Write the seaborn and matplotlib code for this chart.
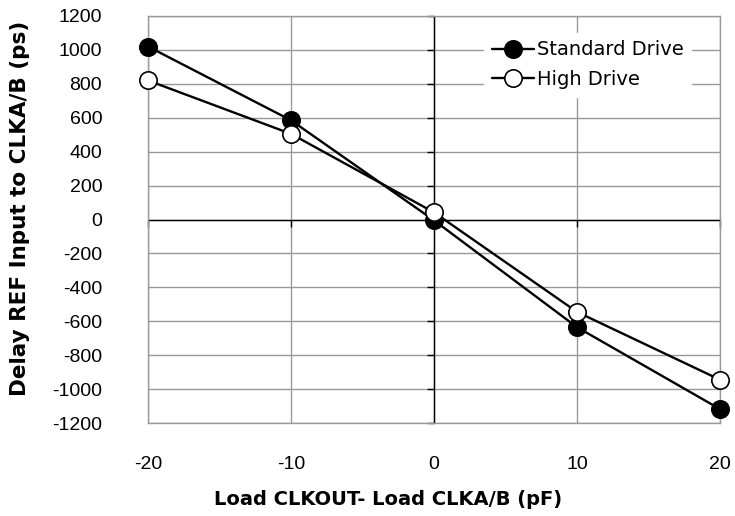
import matplotlib
matplotlib.use("Agg")
import matplotlib.pyplot as plt
import numpy as np
import pandas as pd
import seaborn as sns

# values
load_diff_pf = [-20, -10, 0, 10, 20]
standard_drive_ps = [1020, 585, -5, -635, -1118]
high_drive_ps = [820, 505, 42, -545, -945]
x_ticks = [-20, -10, 0, 10, 20]
y_ticks = list(range(-1200, 1201, 200))

sns.set_style("white")
plt.rcParams["font.family"] = ["Liberation Sans", "DejaVu Sans"]
plt.rcParams["axes.unicode_minus"] = False
for key in ("text.color", "axes.labelcolor", "xtick.color", "ytick.color"):
    plt.rcParams[key] = "black"

df = pd.DataFrame({
    "load": load_diff_pf * 2,
    "delay": standard_drive_ps + high_drive_ps,
    "series": ["Standard Drive"] * 5 + ["High Drive"] * 5,
})

W, H = 735, 516
fig = plt.figure(figsize=(W / 100, H / 100), dpi=100)
ax = fig.add_axes([148 / W, 1 - 423 / H, 572 / W, 407 / H])

face = {"Standard Drive": "black", "High Drive": "white"}
for name, fc in face.items():
    sub = df[df["series"] == name]
    sns.lineplot(data=sub, x="load", y="delay", ax=ax, color="black",
                 linewidth=1.7, marker="o", markersize=12.5,
                 markerfacecolor=fc, markeredgecolor="black",
                 markeredgewidth=1.2, label=name, zorder=4, clip_on=False)

ax.set_xlim(-20, 20)
ax.set_ylim(-1200, 1200)
ax.set_xticks(x_ticks)
ax.set_yticks(y_ticks)
ax.grid(True, color="#999999", linewidth=1.0)
ax.set_axisbelow(True)
for sp in ax.spines.values():
    sp.set_color("#999999")
    sp.set_linewidth(1.0)
ax.tick_params(length=0, labelsize=14)
ax.tick_params(axis="y", pad=33)
ax.tick_params(axis="x", pad=24)
for lbl in ax.get_xticklabels() + ax.get_yticklabels():
    lbl.set_fontfamily("Liberation Sans")

# zero axes with their own tick marks
ax.axhline(0, color="black", linewidth=1.0, zorder=2)
ax.axvline(0, color="black", linewidth=1.0, zorder=2)
ax.plot(x_ticks, np.zeros(len(x_ticks)), linestyle="none", marker=3,
        markersize=5, color="black", zorder=2, clip_on=False)
ax.plot(np.zeros(len(y_ticks)), y_ticks, linestyle="none", marker=0,
        markersize=5, color="black", zorder=2, clip_on=False)

ax.set_xlabel("Load CLKOUT- Load CLKA/B (pF)", fontsize=14,
              fontweight="bold", family="DejaVu Sans")
ax.xaxis.set_label_coords(0.42, -0.165)
ax.set_ylabel("Delay REF Input to CLKA/B (ps)", fontsize=15.5,
              fontweight="bold", family="DejaVu Sans")
ax.yaxis.set_label_coords(-0.206, 0.528)

leg = ax.legend(loc="upper left", bbox_to_anchor=(0.571, 0.983),
                frameon=True, handlelength=2.15, handletextpad=0.15,
                labelspacing=0.53, borderpad=0.4,
                prop={"family": "DejaVu Sans", "size": 14})
frame = leg.get_frame()
frame.set_edgecolor("white")
frame.set_facecolor("white")
frame.set_alpha(1)
frame.set_boxstyle("square", pad=0)

fig.savefig("out.png", dpi=100)
